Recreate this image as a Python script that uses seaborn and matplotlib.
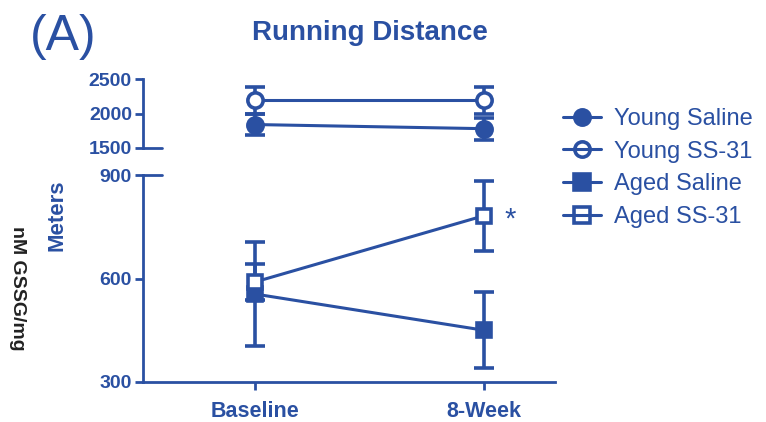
import matplotlib
matplotlib.use("Agg")
import matplotlib.pyplot as plt
import seaborn as sns
import pandas as pd
from matplotlib.lines import Line2D

sns.set_style("white")
plt.rcParams['font.family'] = ['Liberation Sans', 'DejaVu Sans']

BLUE = '#2A50A2'

timepoints = ['Baseline', '8-Week']
groups = ['Young Saline', 'Young SS-31', 'Aged Saline', 'Aged SS-31']
young_saline_mean = [1840, 1780]
young_saline_sd = [150, 160]
young_ss31_mean = [2190, 2190]
young_ss31_sd = [190, 200]
aged_saline_mean = [555, 450]
aged_saline_sd = [150, 110]
aged_ss31_mean = [590, 782]
aged_ss31_sd = [53, 101]
top_ticks = [1500, 2000, 2500]
bottom_ticks = [300, 600, 900]

means = {'Young Saline': young_saline_mean, 'Young SS-31': young_ss31_mean,
         'Aged Saline': aged_saline_mean, 'Aged SS-31': aged_ss31_mean}
sds = {'Young Saline': young_saline_sd, 'Young SS-31': young_ss31_sd,
       'Aged Saline': aged_saline_sd, 'Aged SS-31': aged_ss31_sd}
markers = {'Young Saline': 'o', 'Young SS-31': 'o', 'Aged Saline': 's', 'Aged SS-31': 's'}
filled = {'Young Saline': True, 'Young SS-31': False, 'Aged Saline': True, 'Aged SS-31': False}

rows = []
for g in groups:
    for i, t in enumerate(timepoints):
        rows.append({'group': g, 'time': t, 'pos': i, 'mean': means[g][i], 'sd': sds[g][i]})
df = pd.DataFrame(rows)

W, H = 766, 422
fig = plt.figure(figsize=(W / 100, H / 100), dpi=100)

left = 143 / W
width = (555 - 143) / W
ax_top = fig.add_axes([left, (H - 148) / H, width, (148 - 79) / H])
ax_bot = fig.add_axes([left, (H - 382) / H, width, (382 - 175) / H])

for ax, gs in [(ax_top, ['Young Saline', 'Young SS-31']), (ax_bot, ['Aged Saline', 'Aged SS-31'])]:
    for g in gs:
        d = df[df.group == g]
        ax.errorbar(d['pos'], d['mean'], yerr=d['sd'], fmt='none', ecolor=BLUE,
                    elinewidth=2.6, capsize=7.5, capthick=2.6, zorder=2)
        sns.lineplot(data=d, x='pos', y='mean', ax=ax, color=BLUE, lw=2.2,
                     marker=markers[g], markersize=11 if markers[g] == 'o' else 10.5,
                     markeredgewidth=2.6, markeredgecolor=BLUE,
                     markerfacecolor=BLUE if filled[g] else 'white', zorder=3, legend=False)

xl = (-112 / 229, 1 + 71 / 229)
ax_top.set_xlim(*xl)
ax_bot.set_xlim(*xl)
ax_top.set_ylim(1500, 2500)
ax_bot.set_ylim(300, 900)
ax_top.set_yticks(top_ticks)
ax_bot.set_yticks(bottom_ticks)
ax_top.set_xticks([])
ax_bot.set_xticks(range(len(timepoints)))
ax_bot.set_xticklabels(timepoints)

for ax in (ax_top, ax_bot):
    ax.set_xlabel('')
    ax.set_ylabel('')
    ax.patch.set_alpha(0)
    for s in ['top', 'right']:
        ax.spines[s].set_visible(False)
    for s in ['left', 'bottom']:
        ax.spines[s].set_color(BLUE)
        ax.spines[s].set_linewidth(2)
    ax.tick_params(axis='both', colors=BLUE, width=2, length=6, direction='out',
                   labelsize=14, pad=2, left=True, bottom=True)
    for lab in ax.get_yticklabels() + ax.get_xticklabels():
        lab.set_fontweight('bold')
        lab.set_color(BLUE)
ax_top.spines['bottom'].set_visible(False)
ax_bot.tick_params(axis='x', labelsize=15.5, pad=8)

# break caps
ax_top.plot([0, 0.045], [0, 0], transform=ax_top.transAxes, color=BLUE, lw=2, clip_on=False)
ax_bot.plot([0, 0.045], [1, 1], transform=ax_bot.transAxes, color=BLUE, lw=2, clip_on=False)

ax_bot.annotate('*', xy=(1, aged_ss31_mean[1]), xytext=(15, -3), textcoords='offset points',
                ha='left', va='center', fontsize=21, color=BLUE)

fig.text(30 / W, 1 - 37 / H, '(A)', fontsize=36, color=BLUE, ha='left', va='center')
fig.text(370 / W, 1 - 33 / H, 'Running Distance', fontsize=20, fontweight='bold',
         color=BLUE, ha='center', va='center')
fig.text(57 / W, 1 - 215 / H, 'Meters', fontsize=16, fontweight='bold', color=BLUE,
         rotation=90, ha='center', va='center')
fig.text(17 / W, 1 - 288 / H, 'nM GSSG/mg', fontsize=14, fontweight='bold', color='#222222',
         rotation=270, ha='center', va='center')

handles = []
for g in groups:
    handles.append(Line2D([0], [0], color=BLUE, lw=2.2, marker=markers[g], markersize=11,
                          markeredgewidth=2.6, markeredgecolor=BLUE,
                          markerfacecolor=BLUE if filled[g] else 'none'))
fig.legend(handles, groups, loc='center left', bbox_to_anchor=(542 / W, 1 - 168 / H),
           frameon=False, fontsize=17, labelcolor=BLUE, handlelength=1.6,
           handletextpad=0.55, labelspacing=0.45)

fig.savefig('out.png', dpi=100)
